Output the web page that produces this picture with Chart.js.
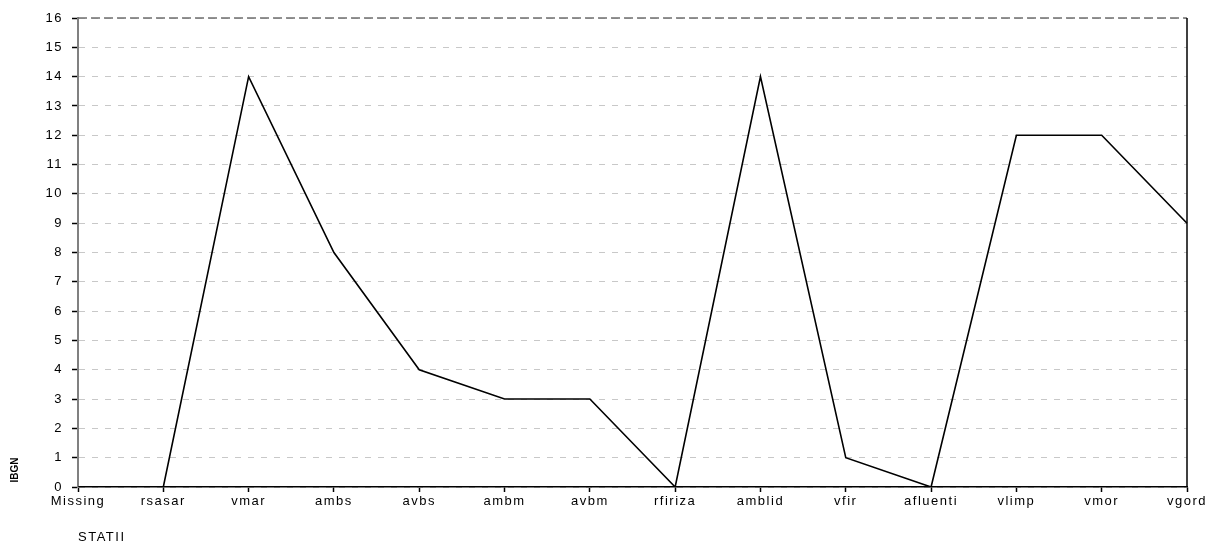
<!DOCTYPE html>
<html>
<head>
<meta charset="utf-8">
<script src="https://cdn.jsdelivr.net/npm/chart.js@4/dist/chart.umd.min.js"></script>
<style>
html,body{margin:0;padding:0;background:#fff;}
#wrap{width:1210px;height:541px;position:relative;}
</style>
</head>
<body>
<div id="wrap"><canvas id="c" width="1210" height="541"></canvas></div>
<script>
const categories = ["Missing","rsasar","vmar","ambs","avbs","ambm","avbm","rfiriza","amblid","vfir","afluenti","vlimp","vmor","vgord"];
const ibgnValues = [0,0,14,8,4,3,3,0,14,1,0,12,12,9];
const yTitle = "IBGN";
const xTitle = "STATII";
const yMin = 0, yMax = 16;

const FONT = "'Liberation Sans', Arial, sans-serif";
const SPACING = '1.5px';

const spacingPlugin = {
  id: 'spacing',
  beforeUpdate(chart){ chart.ctx.letterSpacing = SPACING; },
  beforeDraw(chart){ chart.ctx.letterSpacing = SPACING; }
};

const framePlugin = {
  id: 'frame',
  afterDraw(chart){
    const {ctx, chartArea:a} = chart;
    ctx.save();
    ctx.strokeStyle = '#707070';
    ctx.lineWidth = 1.5;
    ctx.setLineDash([9,4]);
    ctx.beginPath();
    ctx.moveTo(a.left, a.top);
    ctx.lineTo(a.right, a.top);
    ctx.stroke();
    ctx.setLineDash([]);
    ctx.strokeStyle = '#000';
    ctx.lineWidth = 1.5;
    ctx.beginPath();
    ctx.moveTo(a.right, a.top);
    ctx.lineTo(a.right, a.bottom);
    ctx.stroke();
    ctx.letterSpacing = SPACING;
    ctx.fillStyle = '#000';
    ctx.font = "13px " + FONT;
    ctx.textAlign = 'left';
    ctx.textBaseline = 'alphabetic';
    ctx.fillText(xTitle, 78, 541);
    ctx.letterSpacing = '0px';
    ctx.translate(18, 470);
    ctx.rotate(-Math.PI/2);
    ctx.font = "bold 10px " + FONT;
    ctx.textAlign = 'center';
    ctx.textBaseline = 'alphabetic';
    ctx.fillText(yTitle, 0, 0);
    ctx.restore();
  }
};

new Chart(document.getElementById('c'), {
  type: 'line',
  data: {
    labels: categories,
    datasets: [{
      label: yTitle,
      data: ibgnValues,
      borderColor: '#000',
      borderWidth: 1.6,
      pointRadius: 0,
      tension: 0,
      fill: false
    }]
  },
  options: {
    responsive: false,
    animation: false,
    devicePixelRatio: 1,
    layout: { padding: { top: 18, right: 23, left: 0, bottom: 0 } },
    plugins: { legend: { display: false }, tooltip: { enabled: false } },
    scales: {
      x: {
        offset: false,
        grid: { display: true, drawOnChartArea: false, drawTicks: true, tickLength: 5, tickColor: '#000', tickWidth: 1.5 },
        border: { display: true, color: '#000', width: 1.5 },
        ticks: { color: '#000', font: { family: FONT, size: 13 }, padding: 2, maxRotation: 0, autoSkip: false },
        afterFit(s){ s.height = 54; }
      },
      y: {
        min: yMin, max: yMax,
        grid: { color: '#c8c8c8', lineWidth: 1, drawTicks: true, tickLength: 6, tickColor: '#000', tickWidth: 1.5, tickBorderDash: [] },
        border: { display: true, color: '#808080', width: 2, dash: (ctx) => ctx.tick ? [6,7] : [] },
        ticks: { stepSize: 1, color: '#000', font: { family: FONT, size: 13 }, padding: 9 },
        afterFit(s){ s.width = 78; }
      }
    }
  },
  plugins: [spacingPlugin, framePlugin]
});
</script>
</body>
</html>
